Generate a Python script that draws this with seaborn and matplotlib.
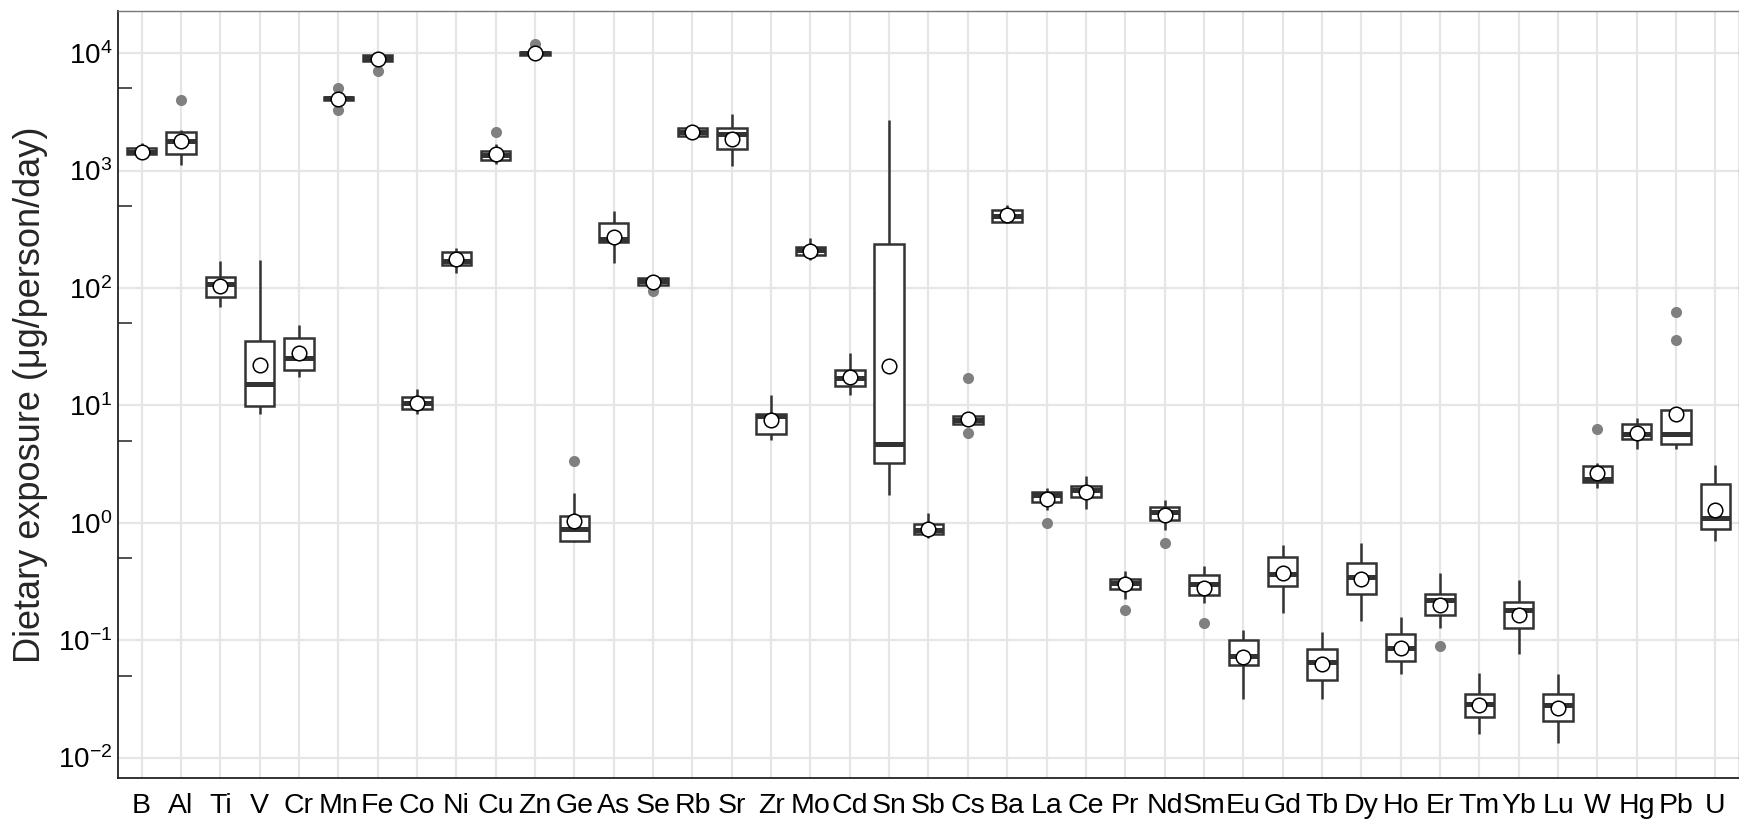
import numpy as np
import pandas as pd
import matplotlib
matplotlib.use("Agg")
import matplotlib.pyplot as plt
import seaborn as sns
from matplotlib.ticker import FixedLocator, LogLocator, NullLocator, FuncFormatter, NullFormatter

# ---------------- data ----------------
elements = ["B", "Al", "Ti", "V", "Cr", "Mn", "Fe", "Co", "Ni", "Cu", "Zn", "Ge", "As", "Se",
            "Rb", "Sr", "Zr", "Mo", "Cd", "Sn", "Sb", "Cs", "Ba", "La", "Ce", "Pr", "Nd", "Sm",
            "Eu", "Gd", "Tb", "Dy", "Ho", "Er", "Tm", "Yb", "Lu", "W", "Hg", "Pb", "U"]

whisker_low = [1330, 1110, 68.4, 8.49, 17.4, 3950, 8400, 8.49, 135, 1127, 9600, 0.686, 163, 104,
               1972, 1092, 5.11, 173, 12.3, 1.73, 0.747, 6.8, 367, 1.29, 1.30, 0.226, 0.873, 0.207,
               0.0318, 0.171, 0.0313, 0.146, 0.0512, 0.127, 0.0160, 0.0767, 0.0133, 1.99, 4.22, 4.22, 0.700]
q1 = [1371, 1396, 83.2, 9.86, 20.2, 4018, 8550, 9.35, 157, 1242, 9700, 0.700, 247, 106.4,
      1972, 1531, 5.66, 190, 14.6, 3.23, 0.798, 6.89, 367, 1.50, 1.66, 0.271, 1.05, 0.241,
      0.0611, 0.288, 0.0461, 0.246, 0.0666, 0.163, 0.0222, 0.128, 0.0204, 2.21, 5.13, 4.72, 0.891]
median = [1453, 1780, 109, 15.1, 25.2, 4130, 9070, 10.5, 170, 1370, 10050, 0.891, 260, 113.6,
          2130, 2037, 8.16, 211, 17.0, 4.66, 0.863, 7.45, 410, 1.71, 1.89, 0.309, 1.24, 0.299,
          0.0729, 0.369, 0.0652, 0.345, 0.0863, 0.218, 0.0284, 0.182, 0.0279, 2.36, 5.74, 5.66, 1.10]
q3 = [1542, 2120, 124.5, 35.6, 37.5, 4255, 9680, 11.7, 204, 1462, 10300, 1.135, 356, 120.5,
      2307, 2306, 8.49, 225, 20.2, 236, 0.970, 8.11, 461, 1.83, 2.04, 0.334, 1.36, 0.356,
      0.0998, 0.512, 0.0848, 0.454, 0.1137, 0.246, 0.0351, 0.211, 0.0346, 3.06, 6.98, 9.19, 2.15]
whisker_high = [1700, 2230, 170, 172.6, 48.8, 4300, 9800, 13.7, 217, 1687, 10400, 1.79, 450, 122,
                2307, 3035, 12.2, 264, 28.0, 2718, 1.21, 8.2, 508, 1.99, 2.48, 0.388, 1.55, 0.431,
                0.121, 0.643, 0.117, 0.673, 0.158, 0.376, 0.0526, 0.324, 0.0512, 3.23, 7.85, 9.19, 3.08]
mean = [1436, 1800, 103, 22.1, 27.8, 4095, 8950, 10.5, 176, 1387, 10100, 1.035, 274, 113,
        2118, 1874, 7.45, 207, 17.4, 21.8, 0.879, 7.69, 416, 1.585, 1.83, 0.299, 1.17, 0.280,
        0.0720, 0.374, 0.0631, 0.334, 0.0863, 0.198, 0.0279, 0.165, 0.0266, 2.67, 5.85, 8.49, 1.29]

outlier_elements = ["Al", "Mn", "Mn", "Fe", "Cu", "Zn", "Ge", "Se", "Cs", "Cs", "La", "Pr",
                    "Nd", "Sm", "Er", "W", "Pb", "Pb"]
outlier_values = [4020, 5050, 3305, 6980, 2133, 12000, 3.38, 94.6, 17.2, 5.85, 0.99, 0.182,
                  0.677, 0.140, 0.0887, 6.28, 36.3, 62.8]

# five-number samples per element (quartiles land exactly on the given values)
rows = []
for i, el in enumerate(elements):
    for v in (whisker_low[i], q1[i], median[i], q3[i], whisker_high[i]):
        rows.append((el, v))
box_df = pd.DataFrame(rows, columns=["element", "value"])
mean_df = pd.DataFrame({"element": elements, "value": mean})
out_df = pd.DataFrame({"element": outlier_elements, "value": outlier_values})

# ---------------- style ----------------
sns.set_style("white")
plt.rcParams["font.family"] = ["Liberation Sans", "DejaVu Sans"]
plt.rcParams["mathtext.fontset"] = "custom"
plt.rcParams["mathtext.rm"] = "Liberation Sans"
plt.rcParams["mathtext.it"] = "Liberation Sans:italic"
plt.rcParams["mathtext.bf"] = "Liberation Sans:bold"

fig = plt.figure(figsize=(17.4, 8.27), dpi=100)
ax = fig.add_axes([118 / 1740, 1 - 778 / 827, (1739 - 118) / 1740, (778 - 11) / 827])

line_col = "#333333"
sns.boxplot(data=box_df, x="element", y="value", order=elements, ax=ax, log_scale=True,
            whis=np.inf, showfliers=False, showcaps=False, width=0.75,
            color="white", saturation=1, linecolor=line_col, linewidth=1.8,
            medianprops={"linewidth": 3.6, "color": line_col}, zorder=3)

sns.stripplot(data=out_df, x="element", y="value", order=elements, ax=ax, jitter=False,
              color="#808080", size=8, linewidth=0, zorder=2)

sns.stripplot(data=mean_df, x="element", y="value", order=elements, ax=ax, jitter=False,
              color="white", edgecolor="black", linewidth=1.1, size=10.5, zorder=6)

# ---------------- axes ----------------
ax.set_xlim(-0.6, len(elements) - 0.4)
ax.set_ylim(10 ** -2.174, 10 ** 4.359)

ax.yaxis.set_major_locator(FixedLocator([1e-2, 1e-1, 1e0, 1e1, 1e2, 1e3, 1e4]))
ax.yaxis.set_major_formatter(FuncFormatter(lambda v, p: r"$\mathregular{10^{%d}}$" % round(np.log10(v))))
ax.yaxis.set_minor_locator(LogLocator(base=10, subs=(2, 3, 4, 6, 7, 8, 9), numticks=50))
ax.yaxis.set_minor_formatter(NullFormatter())

ax.grid(True, which="major", axis="both", color="#E6E6E6", linewidth=1.6)
ax.grid(False, which="minor")
ax.set_axisbelow(True)

ax.tick_params(axis="y", which="major", direction="in", length=15, width=1.5, color=line_col,
               labelsize=20, pad=4, labelcolor="black")
ax.tick_params(axis="y", which="minor", direction="in", length=5, width=1.2, color=line_col)
ax.tick_params(axis="x", which="major", direction="out", length=5, width=1.2, color=line_col,
               labelsize=20.5, pad=5.5, labelcolor="black")

# mid-length log ticks at 5 x 10^k
sec = ax.secondary_yaxis("left")
sec.yaxis.set_major_locator(FixedLocator([5e-3, 5e-2, 5e-1, 5e0, 5e1, 5e2, 5e3, 5e4]))
sec.yaxis.set_minor_locator(NullLocator())
sec.tick_params(axis="y", which="major", direction="in", length=10, width=1.2, color=line_col,
                labelleft=False)
sec.spines["left"].set_visible(False)

for s in ["left", "bottom"]:
    ax.spines[s].set_color("#222222")
    ax.spines[s].set_linewidth(1.3)
for s in ["top", "right"]:
    ax.spines[s].set_visible(True)
    ax.spines[s].set_color("#777777")
    ax.spines[s].set_linewidth(1.0)

ax.set_xlabel("")
ax.set_ylabel("Dietary exposure (μg/person/day)", fontsize=26)
ax.yaxis.set_label_coords(-0.043, 0.5)

fig.savefig("out.png", dpi=100)
